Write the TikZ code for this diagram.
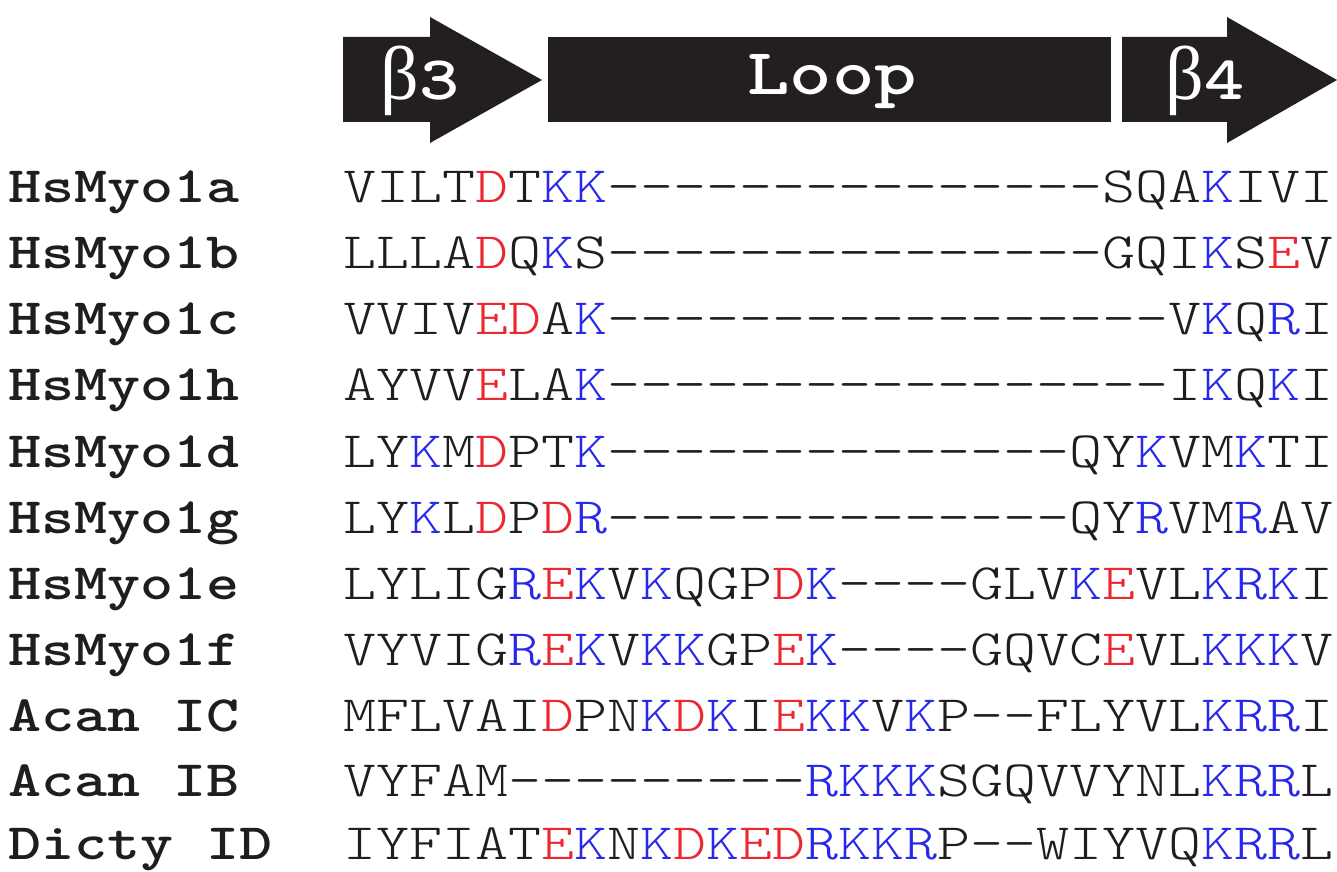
\documentclass[tikz,border=0pt]{standalone}
\usepackage{fontspec}
\setmonofont{lmmonolt10-regular.otf}[BoldFont=lmmonolt10-bold.otf, FakeStretch=1.233]
\newfontfamily\betafont{Liberation Serif}
\definecolor{arr}{RGB}{35,31,32}
\definecolor{txt}{RGB}{30,30,30}
\definecolor{rd}{RGB}{235,40,48}
\definecolor{bl}{RGB}{40,40,235}
\newcommand\Rd[1]{\textcolor{rd}{#1}}
\newcommand\Bl[1]{\textcolor{bl}{#1}}
\newcommand\dsh[1]{\foreach \i in {1,...,#1}{-\kern0pt}}
\begin{document}
\begin{tikzpicture}[x=1pt,y=1pt,
  lbl/.style={anchor=base west, inner sep=0pt, font=\fontsize{51}{51}\selectfont\ttfamily\bfseries, text=txt},
  sq/.style={anchor=base west, inner sep=0pt, font=\fontsize{51}{51}\selectfont\ttfamily, text=txt},
  blk/.style={fill=arr, draw=none},
  hdr/.style={anchor=base, inner sep=0pt, text=white}]
\useasboundingbox (0,0) rectangle (1337,871);
% secondary structure
\fill[blk] (343,749) -- (343,834) -- (430,834) -- (430,854) -- (542,791) -- (430,728) -- (430,749) -- cycle;
\fill[blk] (548,749) rectangle (1111,834);
\fill[blk] (1122,749) -- (1122,834) -- (1227,834) -- (1227,854) -- (1337,791) -- (1227,728) -- (1227,749) -- cycle;
\node[hdr] (b3) at (420,771) {{\fontsize{76}{76}\selectfont\betafont β}{\fontsize{62}{62}\selectfont\ttfamily\bfseries 3}};
\node[hdr] (loop) at (832,776) {\fontsize{65.5}{66}\selectfont\ttfamily\bfseries Loop};
\node[hdr] (b4) at (1205,771) {{\fontsize{76}{76}\selectfont\betafont β}{\fontsize{62}{62}\selectfont\ttfamily\bfseries 4}};
% names
\node[lbl] (n1) at (8,668) {HsMyo1a};
\node[lbl] (n2) at (8,602) {HsMyo1b};
\node[lbl] (n3) at (8,536) {HsMyo1c};
\node[lbl] (n4) at (8,470) {HsMyo1h};
\node[lbl] (n5) at (8,404) {HsMyo1d};
\node[lbl] (n6) at (8,338) {HsMyo1g};
\node[lbl] (n7) at (8,272) {HsMyo1e};
\node[lbl] (n8) at (8,206) {HsMyo1f};
\node[lbl] (n9) at (8,140) {Acan IC};
\node[lbl] (n10) at (8,75) {Acan IB};
\node[lbl] (n11) at (8,12) {Dicty ID};
% sequences
\node[sq] (s1) at (343,668) {VILT\Rd{D}T\Bl{KK}\dsh{15}SQA\Bl{K}IVI};
\node[sq] (s2) at (343,602) {LLLA\Rd{D}Q\Bl{K}S\dsh{15}GQI\Bl{K}S\Rd{E}V};
\node[sq] (s3) at (343,536) {VVIV\Rd{ED}A\Bl{K}\dsh{17}V\Bl{K}Q\Bl{R}I};
\node[sq] (s4) at (343,470) {AYVV\Rd{E}LA\Bl{K}\dsh{17}I\Bl{K}Q\Bl{K}I};
\node[sq] (s5) at (343,404) {LY\Bl{K}M\Rd{D}PT\Bl{K}\dsh{14}QY\Bl{K}VM\Bl{K}TI};
\node[sq] (s6) at (343,338) {LY\Bl{K}L\Rd{D}P\Rd{D}\Bl{R}\dsh{14}QY\Bl{R}VM\Bl{R}AV};
\node[sq] (s7) at (343,272) {LYLIG\Bl{R}\Rd{E}\Bl{K}V\Bl{K}QGP\Rd{D}\Bl{K}\dsh{4}GLV\Bl{K}\Rd{E}VL\Bl{KRK}I};
\node[sq] (s8) at (343,206) {VYVIG\Bl{R}\Rd{E}\Bl{K}V\Bl{KK}GP\Rd{E}\Bl{K}\dsh{4}GQVC\Rd{E}VL\Bl{KKK}V};
\node[sq] (s9) at (343,140) {MFLVAI\Rd{D}PN\Bl{K}\Rd{D}\Bl{K}I\Rd{E}\Bl{KK}V\Bl{K}P\dsh{2}FLYVL\Bl{KRR}I};
\node[sq] (s10) at (343,75) {VYFAM\dsh{9}\Bl{RKKK}SGQVVYNL\Bl{KRR}L};
\node[sq] (s11) at (343,12) {IYFIAT\Rd{E}\Bl{K}N\Bl{K}\Rd{D}\Bl{K}\Rd{ED}\Bl{RKKR}P\dsh{2}WIYVQ\Bl{KRR}L};
\end{tikzpicture}
\end{document}
